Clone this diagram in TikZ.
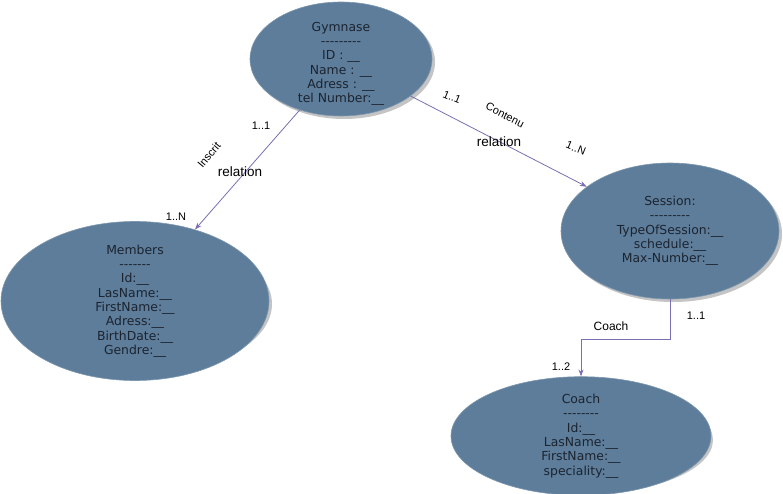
\documentclass[tikz,border=0pt]{standalone}
\usepackage{fontspec}
\setmainfont{DejaVu Sans}
\newfontfamily\lblfont{Liberation Sans}
\usetikzlibrary{shapes.geometric,arrows.meta}
\definecolor{entfill}{HTML}{5D7D9A}
\definecolor{enttext}{HTML}{1C2430}
\definecolor{shadowc}{HTML}{C4C4C4}
\definecolor{linkc}{HTML}{7A6FB5}
\newcommand{\hy}{-{}}
\begin{document}
\begin{tikzpicture}[x=1pt,y=-1pt,
  entity/.style={ellipse,fill=entfill,draw=entfill!80!white,line width=0.6pt,inner sep=0pt,align=center,
    text=enttext,font=\fontsize{12.4}{14.3}\selectfont},
  etext/.style={inner sep=0pt,align=center,text=enttext,font=\fontsize{12.4}{14.3}\selectfont},
  shade/.style={ellipse,fill=shadowc,inner sep=0pt},
  link/.style={draw=linkc,line width=0.8pt,-{Stealth[length=7pt,width=5pt]}},
  lbl/.style={font=\lblfont\fontsize{11}{13}\selectfont,text=black,inner sep=0pt},
  rel/.style={font=\lblfont\fontsize{13.5}{15}\selectfont,text=black,inner sep=0pt}]
\useasboundingbox (0,0) rectangle (783,494);
\fill[white] (0,0) rectangle (783,494);
% shadows
\node[shade,minimum width=182pt,minimum height=114pt] (gyms) at (344,62) {};
\node[shade,minimum width=218pt,minimum height=136pt] (sesss) at (673,234) {};
\node[shade,minimum width=268pt,minimum height=142pt] (mems) at (138,304) {};
\node[shade,minimum width=260pt,minimum height=108pt] (coas) at (583,440) {};
% entities
\node[entity,minimum width=182pt,minimum height=114pt] (gym) at (341,59) {};
\node[etext] (gymt) at (341,64)
  {Gymnase\\\hy\hy\hy\hy\hy\hy\hy\hy\hy\\ID : \_\_\\Name : \_\_\\Adress : \_\_\\tel Number:\_\_};
\node[entity,minimum width=218pt,minimum height=136pt] (sess) at (670,231)
  {Session:\\\hy\hy\hy\hy\hy\hy\hy\hy\hy\\TypeOfSession:\_\_\\schedule:\_\_\\Max-Number:\_\_};
\node[entity,minimum width=268pt,minimum height=142pt] (mem) at (135,301)
  {Members\\\hy\hy\hy\hy\hy\hy\hy\\Id:\_\_\\LasName:\_\_\\FirstName:\_\_\\Adress:\_\_\\BirthDate:\_\_\\Gendre:\_\_};
\node[entity,minimum width=260pt,minimum height=108pt] (coach) at (581,436)
  {Coach\\\hy\hy\hy\hy\hy\hy\hy\hy\\Id:\_\_\\LasName:\_\_\\FirstName:\_\_\\speciality:\_\_};
% connectors
\draw[link] (gym.-129) -- (mem.50);
\draw[link] (gym.-28) -- (sess.152);
\draw[link] (sess.south) -- ++(0,40) -| (coach.north);
% labels
\node[lbl] (l1) at (261,126) {1..1};
\node[lbl,rotate=50] (l2) at (209,155) {Inscrit};
\node[rel] (l3) at (240,172) {relation};
\node[lbl] (l4) at (176,217) {1..N};
\node[lbl,rotate=-22] (l5) at (452,97) {1..1};
\node[lbl,rotate=-27] (l6) at (505,115) {Contenu};
\node[rel] (l7) at (499,142) {relation};
\node[lbl,rotate=-22] (l8) at (576,148) {1..N};
\node[lbl] (l9) at (696,316) {1..1};
\node[lbl,font=\lblfont\fontsize{12}{14}\selectfont] (l10) at (611,326) {Coach};
\node[lbl] (l11) at (561,367) {1..2};
\end{tikzpicture}
\end{document}
